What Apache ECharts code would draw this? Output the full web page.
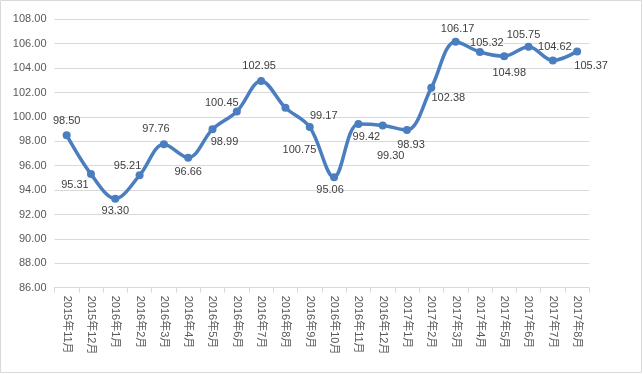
<!DOCTYPE html>
<html>
<head>
<meta charset="utf-8">
<script src="https://cdn.jsdelivr.net/npm/echarts@6/dist/echarts.min.js"></script>
<style>
html,body{margin:0;padding:0;background:#fff;}
#chart{width:643px;height:374px;}
</style>
</head>
<body>
<div id="chart"></div>
<script>
var categories = ['2015年11月','2015年12月','2016年1月','2016年2月','2016年3月','2016年4月','2016年5月','2016年6月','2016年7月','2016年8月','2016年9月','2016年10月','2016年11月','2016年12月','2017年1月','2017年2月','2017年3月','2017年4月','2017年5月','2017年6月','2017年7月','2017年8月'];
var values = [98.50,95.31,93.30,95.21,97.76,96.66,98.99,100.45,102.95,100.75,99.17,95.06,99.42,99.30,98.93,102.38,106.17,105.32,104.98,105.75,104.62,105.37];
var yMin = 86, yMax = 108, yStep = 2;

// label placement (styling only)
var labelDx = [0,-16,0,-12,-8,0,12,-15,-2,14,14,-4,8,8,4,17,2,7,5,-5,2,14];
var labelDy = [-14,11,12,-9,-15,14,13,-8,-15,42,-11,13,13,31,15,10,-13,-9,17,-12,-14,15];

var seriesData = values.map(function(v,i){
  return {value:v, label:{offset:[labelDx[i],labelDy[i]]}};
});

var chart = echarts.init(document.getElementById('chart'), null, {renderer:'canvas'});
chart.setOption({
  animation:false,
  backgroundColor:'#fff',
  textStyle:{fontFamily:'Liberation Sans, Arial, sans-serif'},
  graphic:[{type:'rect',shape:{x:0.5,y:0.5,width:641,height:372},style:{fill:'none',stroke:'#d9d9d9',lineWidth:1},silent:true}],
  grid:{left:54.5,right:53.7,top:19.3,bottom:86.3,containLabel:false},
  xAxis:{
    type:'category',
    data:categories,
    boundaryGap:true,
    axisLine:{lineStyle:{color:'#d9d9d9',width:1}},
    axisTick:{show:true,length:5,alignWithLabel:false,lineStyle:{color:'#d9d9d9'}},
    axisLabel:{rotate:-90,interval:0,margin:8,color:'#595959',fontSize:11,fontFamily:'Liberation Sans, "Noto Sans CJK SC", sans-serif'}
  },
  yAxis:{
    type:'value',min:yMin,max:yMax,interval:yStep,
    axisLine:{show:false},axisTick:{show:false},
    splitLine:{lineStyle:{color:'#d9d9d9',width:1}},
    axisLabel:{color:'#595959',fontSize:11,margin:8,formatter:function(v){return v.toFixed(2);}}
  },
  series:[{
    type:'line',
    data:seriesData,
    smooth:0.35,
    symbol:'circle',
    symbolSize:8,
    lineStyle:{color:'#4a7ebf',width:3.5},
    itemStyle:{color:'#4a7ebf'},
    label:{show:true,position:'inside',align:'center',verticalAlign:'middle',color:'#404040',fontSize:11,
      formatter:function(p){return p.value.toFixed(2);}}
  }]
});
</script>
</body>
</html>
